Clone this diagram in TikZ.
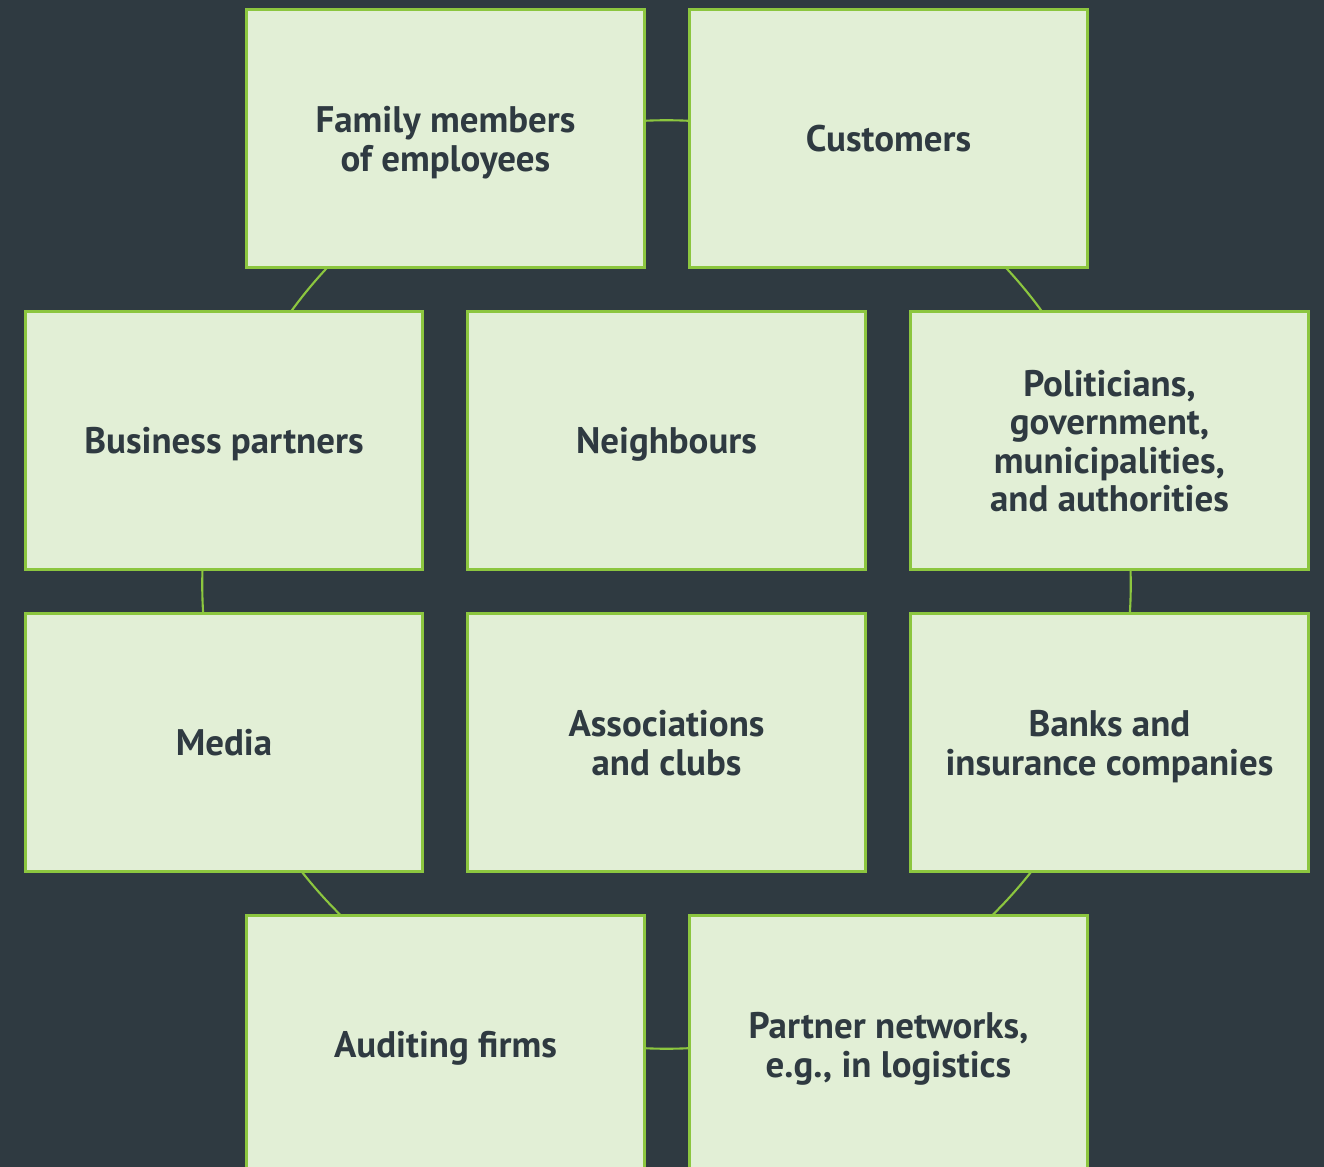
\documentclass[tikz,border=0pt]{standalone}
\usepackage{fontspec}
\setmainfont{PT Sans}
\usetikzlibrary{calc}
\definecolor{slate}{HTML}{2F3A41}
\definecolor{leaf}{HTML}{E2EFD6}
\definecolor{lime}{HTML}{8CC63F}
\pgfdeclarelayer{back}
\pgfdeclarelayer{links}
\pgfsetlayers{back,links,main}
% arc of the ring between two stakeholder boxes (drawn under the boxes)
\newcommand\ringlink[2]{%
  \draw[link] let \p1=($(#1)-(ring)$), \p2=($(#2)-(ring)$),
    \n1={atan2(\y1,\x1)}, \n2={atan2(\y2,\x2)},
    \n3={mod(\n2-\n1+540,360)-180} in
    ($(ring)+(\n1:4.64cm)$) arc[start angle=\n1, delta angle=\n3, radius=4.64cm];}
\begin{document}
\begin{tikzpicture}[x=0.01cm,y=-0.01cm,
  stakeholder/.style={draw=lime, line width=0.85pt, fill=leaf,
    minimum width=3.97cm, minimum height=2.57cm, inner sep=0pt,
    align=center, text=slate, font=\bfseries\fontsize{10.5}{10.9}\selectfont,
    % struts keep every label on the same optical centre
    execute at begin node={\rule{0pt}{9.7pt}},
    execute at end node={\rule[-2.5pt]{0pt}{0pt}}},
  % strut above the last baseline for labels of #1 lines
  lines/.style={execute at begin node={\rule{0pt}{\dimexpr 10.2pt+10.9pt*(#1-1)\relax}}},
  link/.style={draw=lime, line width=0.6pt}]
\useasboundingbox (0,0) rectangle (1324,1167);
\begin{pgfonlayer}{back}
  \fill[slate] (0,0) rectangle (1324,1167);
\end{pgfonlayer}
\coordinate (ring) at (666.5,584.5);
\node[stakeholder,lines=2] (fam)  at (445.5,138.5)  {Family members\\of employees};
\node[stakeholder] (cus)  at (888.5,138.5)  {Customers};
\node[stakeholder] (bus)  at (224,440.5)    {Business partners};
\node[stakeholder] (nei)  at (666.5,440.5)  {Neighbours};
\node[stakeholder,lines=4] (pol)  at (1109.5,440.5) {Politicians,\\government,\\municipalities,\\and authorities};
\node[stakeholder] (med)  at (224,742.5)    {Media};
\node[stakeholder,lines=2] (ass)  at (666.5,742.5)  {Associations\\and clubs};
\node[stakeholder,lines=2] (bank) at (1109.5,742.5) {Banks and\\insurance companies};
\node[stakeholder] (aud)  at (445.5,1044.5) {Auditing firms};
\node[stakeholder,lines=2] (part) at (888.5,1044.5) {Partner networks,\\e.g., in logistics};
\begin{pgfonlayer}{links}
  \ringlink{fam}{cus}
  \ringlink{cus}{pol}
  \ringlink{pol}{bank}
  \ringlink{bank}{part}
  \ringlink{part}{aud}
  \ringlink{aud}{med}
  \ringlink{med}{bus}
  \ringlink{bus}{fam}
\end{pgfonlayer}
\end{tikzpicture}
\end{document}
